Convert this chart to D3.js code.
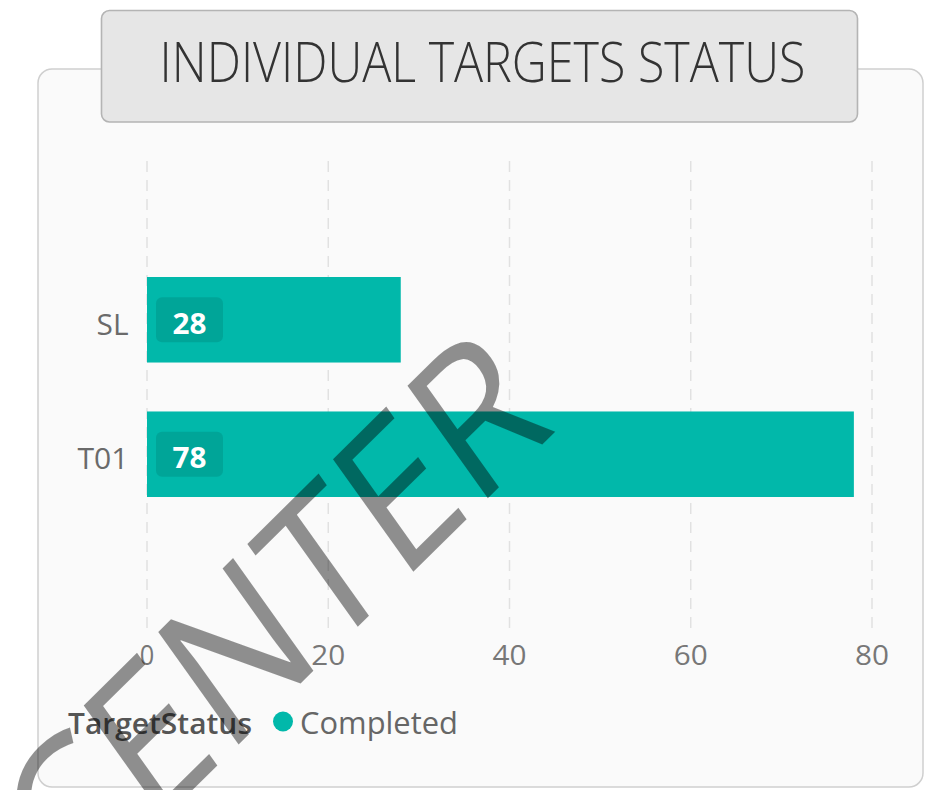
<!DOCTYPE html>
<html>
<head>
<meta charset="utf-8">
<script src="https://cdn.jsdelivr.net/npm/d3@7"></script>
<style>
  html, body { margin: 0; padding: 0; background: #ffffff; }
  svg { display: block; }
  text { font-family: "Open Sans", "Noto Sans", sans-serif; }
</style>
</head>
<body>
<svg id="chart" width="930" height="790"></svg>
<script>
// ---- data ----
const categories = ["SL", "T01"];
const values = [28, 78];
const xTicks = [0, 20, 40, 60, 80];
const titleText = "INDIVIDUAL TARGETS STATUS";
const legendTitle = "TargetStatus";
const seriesName = "Completed";
const watermarkText = "CENTER";

const svg = d3.select("#chart");
const barColor = "#01B8AA";

// helper: squeeze text horizontally to a target width
function fit(sel, target) {
  const w = sel.node().getComputedTextLength();
  const sx = target / w;
  const x = +sel.attr("data-x"), y = +sel.attr("data-y");
  sel.attr("x", 0).attr("y", 0)
     .attr("transform", `translate(${x},${y}) scale(${sx},1)`);
}
function label(parent, txt, x, y, opts) {
  const t = parent.append("text")
    .attr("data-x", x).attr("data-y", y)
    .attr("x", x).attr("y", y)
    .attr("text-anchor", opts.anchor || "start")
    .attr("font-size", opts.size)
    .attr("font-weight", opts.weight || 400)
    .attr("fill", opts.fill)
    .text(txt);
  if (opts.width) fit(t, opts.width);
  return t;
}

// ---- card ----
svg.append("rect")
  .attr("x", 38).attr("y", 69).attr("width", 885).attr("height", 718)
  .attr("rx", 14).attr("ry", 14)
  .attr("fill", "#fafafa").attr("stroke", "#cfcfcf").attr("stroke-width", 1.5);

// ---- title box ----
svg.append("rect")
  .attr("x", 101.5).attr("y", 10.5).attr("width", 756).attr("height", 111.5)
  .attr("rx", 8).attr("ry", 8)
  .attr("fill", "#e6e6e6").attr("stroke", "#b4b4b4").attr("stroke-width", 1.6);
label(svg, titleText, 482.5, 82, {anchor: "middle", size: 55, weight: 300, fill: "#333333", width: 646});

// ---- scales ----
const x = d3.scaleLinear().domain([0, 80]).range([147, 872]);
const y = d3.scaleBand().domain(categories).range([277, 497]).paddingInner(0.364).paddingOuter(0);

// gridlines
const gridTop = 161, gridBottom = 628;
svg.append("g").selectAll("line").data(xTicks).join("line")
  .attr("x1", d => x(d)).attr("x2", d => x(d))
  .attr("y1", gridTop).attr("y2", gridBottom)
  .attr("stroke", "#e1e1e1").attr("stroke-width", 1.5)
  .attr("stroke-dasharray", "11,8");

// x axis tick labels
const xAxis = svg.append("g");
xTicks.forEach(t => {
  label(xAxis, String(t), x(t), 665, {anchor: "middle", size: 28, fill: "#777777",
    width: t === 0 ? 14.5 : 34});
});

// y axis labels
const yAxis = svg.append("g");
const yLabelWidths = {"SL": 32, "T01": 51};
categories.forEach(c => {
  label(yAxis, c, 128.5, y(c) + y.bandwidth() / 2 + 15, {anchor: "end", size: 30, fill: "#6a6a6a",
    width: yLabelWidths[c]});
});

// bars
const data = categories.map((c, i) => ({c, v: values[i]}));
svg.append("g").selectAll("rect").data(data).join("rect")
  .attr("x", x(0)).attr("y", d => y(d.c))
  .attr("width", d => x(d.v) - x(0)).attr("height", y.bandwidth())
  .attr("fill", barColor);

// value labels with rounded background
const vl = svg.append("g");
data.forEach(d => {
  const cy = y(d.c) + y.bandwidth() / 2;
  vl.append("rect")
    .attr("x", x(0) + 9).attr("y", cy - 22.5).attr("width", 67).attr("height", 45)
    .attr("rx", 6).attr("ry", 6)
    .attr("fill", "#000000").attr("fill-opacity", 0.1);
  label(vl, String(d.v), x(0) + 42.5, cy + 14, {anchor: "middle", size: 28, weight: 700, fill: "#ffffff", width: 34});
});

// legend
const lg = svg.append("g");
label(lg, legendTitle, 68, 734, {size: 29, weight: 600, fill: "#555555", width: 184});
lg.append("circle").attr("cx", 283).attr("cy", 721.5).attr("r", 10).attr("fill", barColor);
label(lg, seriesName, 300, 734, {size: 31, fill: "#666666", width: 158});

// watermark
svg.append("text")
  .attr("transform", "translate(312,672) scale(0.85,1) rotate(-40)")
  .attr("text-anchor", "middle")
  .attr("font-size", 206)
  .attr("font-weight", 400)
  .attr("fill", "#000000").attr("fill-opacity", 0.43)
  .text(watermarkText);
</script>
</body>
</html>
